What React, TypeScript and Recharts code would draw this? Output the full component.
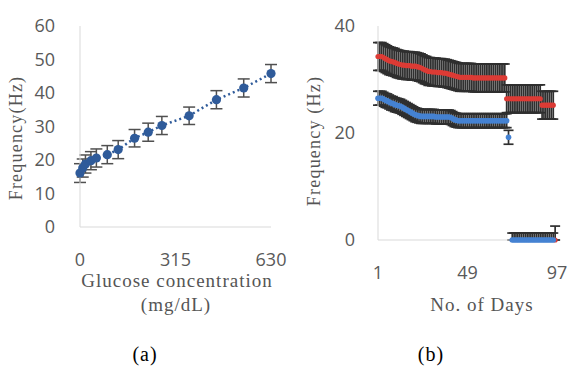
import React from "react";
import { ScatterChart, Scatter, XAxis, YAxis, ErrorBar } from "recharts";

// (a) glucose response
const GLUCOSE = [0, 9, 18, 36, 54, 90, 126, 180, 225, 270, 360, 450, 540, 630];
const FREQ_A = [16.1, 17.6, 18.8, 19.8, 20.6, 21.6, 23.1, 26.5, 28.3, 30.3, 33.2, 38.0, 41.5, 45.8];
const ERR_A = [2.8, 2.7, 2.7, 2.7, 2.7, 2.7, 2.7, 2.6, 2.7, 2.7, 2.6, 2.7, 2.7, 2.7];
const TICKS_A_X = [0, 315, 630];
const TICKS_A_Y = [0, 10, 20, 30, 40, 50, 60];

// (b) stability over days
const DAYS = [
  1, 2, 3, 4, 5, 6, 7, 8, 9, 10, 11, 12, 13, 14, 15, 16, 17, 18, 19, 20,
  21, 22, 23, 24, 25, 26, 27, 28, 29, 30, 31, 32, 33, 34, 35, 36, 37, 38, 39, 40,
  41, 42, 43, 44, 45, 46, 47, 48, 49, 50, 51, 52, 53, 54, 55, 56, 57, 58, 59, 60,
  61, 62, 63, 64, 65, 66, 67, 68, 69, 70, 71, 72, 73, 74, 75, 76, 77, 78, 79, 80,
  81, 82, 83, 84, 85, 86, 87, 88, 89, 90, 91, 92, 93, 94, 95, 96, 97,
];
const RED_FREQ: (number | null)[] = [
  34.3, 34.3, 34.3, 34.1, 33.9, 33.7, 33.5, 33.4, 33.3, 33.2, 33.0, 32.9, 32.8,
  32.7, 32.7, 32.6, 32.6, 32.6, 32.5, 32.5, 32.5, 32.4, 32.3, 32.2,
  32.0, 31.8, 31.7, 31.5,
  31.5, 31.4, 31.4, 31.4, 31.3, 31.3, 31.3, 31.2, 31.2, 31.1, 31.0,
  30.9, 30.8, 30.7, 30.6, 30.5,
  30.4, 30.4, 30.4, 30.4, 30.4, 30.4, 30.4, 30.3, 30.3, 30.3, 30.3, 30.3, 30.3,
  30.3, 30.3, 30.3, 30.3, 30.3, 30.3, 30.3, 30.3, 30.3, 30.3, 30.3, 30.3,
  26.4, 26.4, 26.4, 26.4, 26.4, 26.4, 26.4, 26.4, 26.4, 26.4, 26.4, 26.4, 26.4,
  26.4, 26.4, 26.4, 26.4, 26.4, 26.4,
  25.2, 25.2, 25.2, 25.2, 25.2, 25.2, 25.2,
  0, null,
];
const BLUE_FREQ: (number | null)[] = [
  26.5, 26.5, 26.5, 26.3, 26.1, 26.0, 25.8, 25.6, 25.5, 25.3, 25.2, 25.1, 25.0,
  24.8, 24.6, 24.4, 24.2, 24.0, 23.8, 23.6, 23.4, 23.3, 23.2, 23.1,
  23.1, 23.1, 23.1, 23.1, 23.1, 23.1, 23.1, 23.0, 23.0, 23.0, 23.0, 23.0, 23.0, 23.0, 23.0,
  22.9, 22.7, 22.5, 22.4, 22.3,
  22.3, 22.3, 22.3, 22.3, 22.3, 22.3, 22.3, 22.3, 22.3, 22.3, 22.3, 22.3, 22.3,
  22.3, 22.3, 22.3, 22.3, 22.3, 22.3, 22.3, 22.3, 22.3, 22.3, 22.3, 22.3, 22.3,
  19.2, null,
  0, 0, 0, 0, 0, 0, 0, 0, 0, 0, 0, 0, 0, 0, 0, 0, 0, 0, 0, 0, 0, 0, 0,
  null, null,
];
const RED_ERR = 2.6;
const BLUE_ERR = 1.3;
const TICKS_B_X = [1, 49, 97];
const TICKS_B_Y = [0, 20, 40];

const DARK_BLUE = "#2f5b9a";
const RED = "#dc3b35";
const BLUE = "#4582d2";
const AXIS = "#d9d9d9";
const BAR = "#2f2f2f";
const TICK = { fill: "#595959", fontSize: 18, fontFamily: "Open Sans" };
const SERIF = "'Liberation Serif', 'DejaVu Serif', serif";

const dataA = GLUCOSE.map((g, i) => ({ x: g, y: FREQ_A[i], err: ERR_A[i] }));

function series(values: (number | null)[], e: number) {
  return DAYS.map((d, i) => ({
    day: d,
    f: values[i],
    err: values[i] === 0 ? [0, e] : [e, e],
  })).filter((p) => p.f != null);
}
const redData = series(RED_FREQ, RED_ERR);
const blueData = series(BLUE_FREQ, BLUE_ERR);

const dot = (r: number, fill: string) => (p: any) => <circle cx={p.cx} cy={p.cy} r={r} fill={fill} />;
const none = () => <g />;

export default function App() {
  return (
    <div style={{ position: "absolute", left: 0, top: 0, width: 570, height: 369, background: "#fff" }}>
      <div style={{ position: "absolute", left: 0, top: 0 }}>
        <ScatterChart width={290} height={320} margin={{ top: 26, right: 19, bottom: 0, left: 0 }}>
          <XAxis type="number" dataKey="x" domain={[0, 630]} ticks={TICKS_A_X} tickLine={false}
            axisLine={{ stroke: AXIS }} tick={TICK} height={93} tickSize={22} tickMargin={4} />
          <YAxis type="number" dataKey="y" domain={[0, 60]} ticks={TICKS_A_Y} tickLine={false}
            axisLine={{ stroke: AXIS }} tick={TICK} width={80} tickSize={21} tickMargin={4} />
          {/* error bars first so the markers sit on top */}
          <Scatter data={dataA} isAnimationActive={false} shape={none}
            line={{ stroke: DARK_BLUE, strokeWidth: 2.5, strokeDasharray: "2 3" }}>
            <ErrorBar dataKey="err" direction="y" width={6} stroke="#505050" strokeWidth={1.5} />
          </Scatter>
          <Scatter data={dataA} isAnimationActive={false} shape={dot(4.6, DARK_BLUE)} />
        </ScatterChart>
      </div>
      <div style={{ position: "absolute", left: 290, top: 0 }}>
        <ScatterChart width={280} height={320} margin={{ top: 26, right: 13, bottom: 0, left: 0 }}>
          <XAxis type="number" dataKey="day" domain={[1, 97]} ticks={TICKS_B_X} tickLine={false}
            axisLine={{ stroke: AXIS }} tick={TICK} height={80} tickSize={22} tickMargin={4} />
          <YAxis type="number" dataKey="f" domain={[0, 40]} ticks={TICKS_B_Y} tickLine={false}
            axisLine={{ stroke: AXIS }} tick={TICK} width={88} tickSize={19} tickMargin={4} />
          <Scatter data={redData} isAnimationActive={false} shape={none}>
            <ErrorBar dataKey="err" direction="y" width={5} stroke={BAR} strokeWidth={1.7} />
          </Scatter>
          <Scatter data={blueData} isAnimationActive={false} shape={none}>
            <ErrorBar dataKey="err" direction="y" width={5} stroke={BAR} strokeWidth={1.7} />
          </Scatter>
          <Scatter data={redData} isAnimationActive={false} shape={dot(2.6, RED)} />
          <Scatter data={blueData} isAnimationActive={false} shape={dot(2.8, BLUE)} />
        </ScatterChart>
      </div>
      <svg width={570} height={369} style={{ position: "absolute", left: 0, top: 0, pointerEvents: "none" }}>
        <g fontFamily={SERIF} fill="#555" fontSize={19} letterSpacing={1}>
          <text x={177} y={287} textAnchor="middle">Glucose concentration</text>
          <text x={176} y={311} textAnchor="middle">(mg/dL)</text>
          <text x={482} y={311} textAnchor="middle">No. of Days</text>
          <text transform="translate(22,138) rotate(-90)" textAnchor="middle" fontSize={18} letterSpacing={1.2}>Frequency(Hz)</text>
          <text transform="translate(320,141) rotate(-90)" textAnchor="middle" fontSize={18} letterSpacing={1.2}>Frequency (Hz)</text>
        </g>
        <g fontFamily={SERIF} fill="#000" fontSize={20} letterSpacing={1}>
          <text x={145} y={361} textAnchor="middle">(a)</text>
          <text x={431} y={361} textAnchor="middle">(b)</text>
        </g>
      </svg>
    </div>
  );
}
